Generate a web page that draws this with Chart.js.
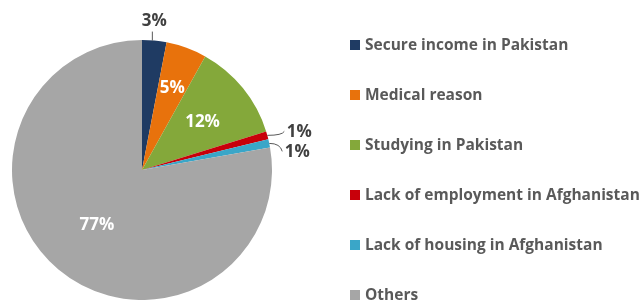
<!DOCTYPE html>
<html>
<head>
<meta charset="utf-8">
<script src="https://cdn.jsdelivr.net/npm/chart.js@4.4.0/dist/chart.umd.min.js"></script>
<style>
  html, body { margin: 0; padding: 0; background: #fff; }
  #wrap { width: 644px; height: 300px; position: relative; }
</style>
</head>
<body>
<div id="wrap"><canvas id="chart"></canvas></div>
<script>
// reasons, in slice order (clockwise from 12 o'clock)
const reasons = [
  'Secure income in Pakistan',
  'Medical reason',
  'Studying in Pakistan',
  'Lack of employment in Afghanistan',
  'Lack of housing in Afghanistan',
  'Others'
]
const shares = [3, 5, 12, 1, 1, 77]
const sliceColors = ['#1f3b63', '#e8720c', '#84a83a', '#c8000a', '#3aa6c8', '#a6a6a6']

// where each % label sits: inside (fraction of radius) or outside with a leader line
const labelStyle = [
  { inside: false, dx: 0, dy: -20, color: '#404040' },
  { inside: true, r: 0.68, color: '#ffffff' },
  { inside: true, r: 0.6, color: '#ffffff' },
  { inside: false, dx: 32, dy: -4, color: '#404040' },
  { inside: false, dx: 28, dy: 8, color: '#404040' },
  { inside: true, r: 0.54, color: '#ffffff' }
]

const pctLabels = {
  id: 'pctLabels',
  afterDatasetsDraw(chart) {
    const ctx = chart.ctx
    const arcs = chart.getDatasetMeta(0).data
    ctx.save()
    ctx.font = 'bold 17px "Open Sans", Lato, sans-serif'
    ctx.textAlign = 'center'
    ctx.textBaseline = 'middle'
    arcs.forEach((arc, i) => {
      const st = labelStyle[i]
      const p = arc.getProps(['x', 'y', 'startAngle', 'endAngle', 'outerRadius'], true)
      const mid = (p.startAngle + p.endAngle) / 2
      let tx, ty
      if (st.inside) {
        tx = p.x + Math.cos(mid) * p.outerRadius * st.r
        ty = p.y + Math.sin(mid) * p.outerRadius * st.r
      } else {
        const ex = p.x + Math.cos(mid) * p.outerRadius
        const ey = p.y + Math.sin(mid) * p.outerRadius
        tx = ex + st.dx
        ty = ey + st.dy
        // leader line
        ctx.strokeStyle = '#595959'
        ctx.lineWidth = 1
        ctx.beginPath()
        if (st.dx === 0) {
          ctx.moveTo(ex - 2, ey)
          ctx.lineTo(ex - 2, ty + 11)
        } else {
          ctx.moveTo(ex, ey)
          ctx.quadraticCurveTo(tx - 17, ey, tx - 15, ty)
        }
        ctx.stroke()
      }
      ctx.fillStyle = st.color
      ctx.fillText(shares[i] + '%', tx, ty + 1)
    })
    ctx.restore()
  }
}

const sideLegend = {
  id: 'sideLegend',
  afterDraw(chart) {
    const ctx = chart.ctx
    ctx.save()
    ctx.font = 'bold 15.5px "Open Sans", Lato, sans-serif'
    ctx.textBaseline = 'middle'
    reasons.forEach((r, i) => {
      const y = 45 + i * 50
      ctx.fillStyle = sliceColors[i]
      ctx.fillRect(350, y - 5, 10, 10)
      ctx.fillStyle = '#595959'
      ctx.fillText(r, 365, y + 1)
    })
    ctx.restore()
  }
}

new Chart(document.getElementById('chart'), {
  type: 'pie',
  data: {
    labels: reasons,
    datasets: [{
      data: shares,
      backgroundColor: sliceColors,
      borderWidth: 0
    }]
  },
  options: {
    responsive: true,
    maintainAspectRatio: false,
    animation: false,
    layout: { padding: { left: 12, top: 40, right: 372, bottom: 0 } },
    plugins: {
      legend: { display: false },
      tooltip: { enabled: false }
    }
  },
  plugins: [pctLabels, sideLegend]
})
</script>
</body>
</html>
